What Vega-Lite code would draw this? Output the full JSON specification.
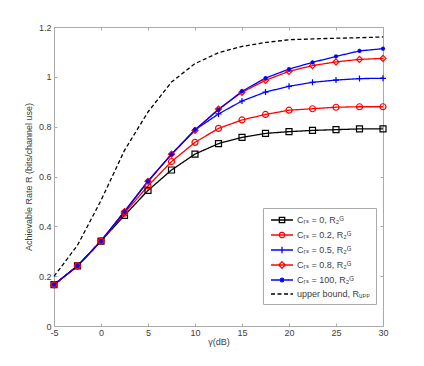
{
  "$schema": "https://vega.github.io/schema/vega-lite/v6.json",
  "autosize": "none",
  "width": 329,
  "height": 299,
  "padding": {"left": 54, "top": 27, "right": 41, "bottom": 40},
  "background": "white",
  "config": {
    "view": {"stroke": "#aaaaaa", "strokeWidth": 1},
    "font": "Liberation Sans, DejaVu Sans",
    "axis": {"grid": false, "labelFont": "Liberation Sans, DejaVu Sans", "titleFont": "Liberation Sans, DejaVu Sans", "labelFontSize": 9, "titleFontSize": 9, "titleFontWeight": "normal", "labelColor": "#404040", "titleColor": "#404040", "tickColor": "#aaaaaa", "domain": false}
  },
  "data": {
    "values": [
      {"x": -5, "y": 0.166, "s": "Cᵣₛ = 0, R₂ᴳ"}, {"x": -2.5, "y": 0.241, "s": "Cᵣₛ = 0, R₂ᴳ"}, {"x": 0, "y": 0.341, "s": "Cᵣₛ = 0, R₂ᴳ"}, {"x": 2.5, "y": 0.444, "s": "Cᵣₛ = 0, R₂ᴳ"}, {"x": 5, "y": 0.544, "s": "Cᵣₛ = 0, R₂ᴳ"}, {"x": 7.5, "y": 0.626, "s": "Cᵣₛ = 0, R₂ᴳ"}, {"x": 10, "y": 0.69, "s": "Cᵣₛ = 0, R₂ᴳ"}, {"x": 12.5, "y": 0.732, "s": "Cᵣₛ = 0, R₂ᴳ"}, {"x": 15, "y": 0.757, "s": "Cᵣₛ = 0, R₂ᴳ"}, {"x": 17.5, "y": 0.773, "s": "Cᵣₛ = 0, R₂ᴳ"}, {"x": 20, "y": 0.78, "s": "Cᵣₛ = 0, R₂ᴳ"}, {"x": 22.5, "y": 0.785, "s": "Cᵣₛ = 0, R₂ᴳ"}, {"x": 25, "y": 0.788, "s": "Cᵣₛ = 0, R₂ᴳ"}, {"x": 27.5, "y": 0.791, "s": "Cᵣₛ = 0, R₂ᴳ"}, {"x": 30, "y": 0.791, "s": "Cᵣₛ = 0, R₂ᴳ"},
      {"x": -5, "y": 0.166, "s": "Cᵣₛ = 0.2, R₂ᴳ"}, {"x": -2.5, "y": 0.241, "s": "Cᵣₛ = 0.2, R₂ᴳ"}, {"x": 0, "y": 0.341, "s": "Cᵣₛ = 0.2, R₂ᴳ"}, {"x": 2.5, "y": 0.453, "s": "Cᵣₛ = 0.2, R₂ᴳ"}, {"x": 5, "y": 0.562, "s": "Cᵣₛ = 0.2, R₂ᴳ"}, {"x": 7.5, "y": 0.66, "s": "Cᵣₛ = 0.2, R₂ᴳ"}, {"x": 10, "y": 0.737, "s": "Cᵣₛ = 0.2, R₂ᴳ"}, {"x": 12.5, "y": 0.793, "s": "Cᵣₛ = 0.2, R₂ᴳ"}, {"x": 15, "y": 0.827, "s": "Cᵣₛ = 0.2, R₂ᴳ"}, {"x": 17.5, "y": 0.849, "s": "Cᵣₛ = 0.2, R₂ᴳ"}, {"x": 20, "y": 0.866, "s": "Cᵣₛ = 0.2, R₂ᴳ"}, {"x": 22.5, "y": 0.872, "s": "Cᵣₛ = 0.2, R₂ᴳ"}, {"x": 25, "y": 0.878, "s": "Cᵣₛ = 0.2, R₂ᴳ"}, {"x": 27.5, "y": 0.88, "s": "Cᵣₛ = 0.2, R₂ᴳ"}, {"x": 30, "y": 0.88, "s": "Cᵣₛ = 0.2, R₂ᴳ"},
      {"x": -5, "y": 0.166, "s": "Cᵣₛ = 0.5, R₂ᴳ"}, {"x": -2.5, "y": 0.241, "s": "Cᵣₛ = 0.5, R₂ᴳ"}, {"x": 0, "y": 0.341, "s": "Cᵣₛ = 0.5, R₂ᴳ"}, {"x": 2.5, "y": 0.46, "s": "Cᵣₛ = 0.5, R₂ᴳ"}, {"x": 5, "y": 0.581, "s": "Cᵣₛ = 0.5, R₂ᴳ"}, {"x": 7.5, "y": 0.689, "s": "Cᵣₛ = 0.5, R₂ᴳ"}, {"x": 10, "y": 0.787, "s": "Cᵣₛ = 0.5, R₂ᴳ"}, {"x": 12.5, "y": 0.851, "s": "Cᵣₛ = 0.5, R₂ᴳ"}, {"x": 15, "y": 0.903, "s": "Cᵣₛ = 0.5, R₂ᴳ"}, {"x": 17.5, "y": 0.939, "s": "Cᵣₛ = 0.5, R₂ᴳ"}, {"x": 20, "y": 0.962, "s": "Cᵣₛ = 0.5, R₂ᴳ"}, {"x": 22.5, "y": 0.978, "s": "Cᵣₛ = 0.5, R₂ᴳ"}, {"x": 25, "y": 0.987, "s": "Cᵣₛ = 0.5, R₂ᴳ"}, {"x": 27.5, "y": 0.993, "s": "Cᵣₛ = 0.5, R₂ᴳ"}, {"x": 30, "y": 0.994, "s": "Cᵣₛ = 0.5, R₂ᴳ"},
      {"x": -5, "y": 0.166, "s": "Cᵣₛ = 0.8, R₂ᴳ"}, {"x": -2.5, "y": 0.241, "s": "Cᵣₛ = 0.8, R₂ᴳ"}, {"x": 0, "y": 0.341, "s": "Cᵣₛ = 0.8, R₂ᴳ"}, {"x": 2.5, "y": 0.459, "s": "Cᵣₛ = 0.8, R₂ᴳ"}, {"x": 5, "y": 0.581, "s": "Cᵣₛ = 0.8, R₂ᴳ"}, {"x": 7.5, "y": 0.69, "s": "Cᵣₛ = 0.8, R₂ᴳ"}, {"x": 10, "y": 0.785, "s": "Cᵣₛ = 0.8, R₂ᴳ"}, {"x": 12.5, "y": 0.871, "s": "Cᵣₛ = 0.8, R₂ᴳ"}, {"x": 15, "y": 0.938, "s": "Cᵣₛ = 0.8, R₂ᴳ"}, {"x": 17.5, "y": 0.986, "s": "Cᵣₛ = 0.8, R₂ᴳ"}, {"x": 20, "y": 1.022, "s": "Cᵣₛ = 0.8, R₂ᴳ"}, {"x": 22.5, "y": 1.045, "s": "Cᵣₛ = 0.8, R₂ᴳ"}, {"x": 25, "y": 1.06, "s": "Cᵣₛ = 0.8, R₂ᴳ"}, {"x": 27.5, "y": 1.07, "s": "Cᵣₛ = 0.8, R₂ᴳ"}, {"x": 30, "y": 1.074, "s": "Cᵣₛ = 0.8, R₂ᴳ"},
      {"x": -5, "y": 0.166, "s": "Cᵣₛ = 100, R₂ᴳ"}, {"x": -2.5, "y": 0.241, "s": "Cᵣₛ = 100, R₂ᴳ"}, {"x": 0, "y": 0.341, "s": "Cᵣₛ = 100, R₂ᴳ"}, {"x": 2.5, "y": 0.459, "s": "Cᵣₛ = 100, R₂ᴳ"}, {"x": 5, "y": 0.581, "s": "Cᵣₛ = 100, R₂ᴳ"}, {"x": 7.5, "y": 0.689, "s": "Cᵣₛ = 100, R₂ᴳ"}, {"x": 10, "y": 0.788, "s": "Cᵣₛ = 100, R₂ᴳ"}, {"x": 12.5, "y": 0.868, "s": "Cᵣₛ = 100, R₂ᴳ"}, {"x": 15, "y": 0.942, "s": "Cᵣₛ = 100, R₂ᴳ"}, {"x": 17.5, "y": 0.995, "s": "Cᵣₛ = 100, R₂ᴳ"}, {"x": 20, "y": 1.031, "s": "Cᵣₛ = 100, R₂ᴳ"}, {"x": 22.5, "y": 1.058, "s": "Cᵣₛ = 100, R₂ᴳ"}, {"x": 25, "y": 1.082, "s": "Cᵣₛ = 100, R₂ᴳ"}, {"x": 27.5, "y": 1.104, "s": "Cᵣₛ = 100, R₂ᴳ"}, {"x": 30, "y": 1.113, "s": "Cᵣₛ = 100, R₂ᴳ"},
      {"x": -5, "y": 0.199, "s": "upper bound, Rᵤₚₚ"}, {"x": -2.5, "y": 0.324, "s": "upper bound, Rᵤₚₚ"}, {"x": 0, "y": 0.504, "s": "upper bound, Rᵤₚₚ"}, {"x": 2.5, "y": 0.705, "s": "upper bound, Rᵤₚₚ"}, {"x": 5, "y": 0.859, "s": "upper bound, Rᵤₚₚ"}, {"x": 7.5, "y": 0.979, "s": "upper bound, Rᵤₚₚ"}, {"x": 10, "y": 1.053, "s": "upper bound, Rᵤₚₚ"}, {"x": 12.5, "y": 1.097, "s": "upper bound, Rᵤₚₚ"}, {"x": 15, "y": 1.122, "s": "upper bound, Rᵤₚₚ"}, {"x": 17.5, "y": 1.138, "s": "upper bound, Rᵤₚₚ"}, {"x": 20, "y": 1.149, "s": "upper bound, Rᵤₚₚ"}, {"x": 22.5, "y": 1.152, "s": "upper bound, Rᵤₚₚ"}, {"x": 25, "y": 1.155, "s": "upper bound, Rᵤₚₚ"}, {"x": 27.5, "y": 1.157, "s": "upper bound, Rᵤₚₚ"}, {"x": 30, "y": 1.16, "s": "upper bound, Rᵤₚₚ"}
    ]
  },
  "layer": [
    {
      "mark": {"type": "line", "strokeWidth": 1.3},
      "encoding": {
        "x": {"field": "x", "type": "quantitative", "scale": {"domain": [-5, 30], "nice": false, "zero": false},
          "axis": {"orient": "bottom", "values": [-5, 0, 5, 10, 15, 20, 25, 30], "labelExpr": "'' + datum.value", "title": "γ(dB)", "tickSize": -3, "labelPadding": 5, "titlePadding": 0, "labelFlush": false}},
        "y": {"field": "y", "type": "quantitative", "scale": {"domain": [0, 1.2], "nice": false},
          "axis": {"orient": "left", "values": [0, 0.2, 0.4, 0.6, 0.8, 1, 1.2], "labelExpr": "'' + datum.value", "title": "Achievable Rate R (bits/channel use)", "tickSize": -3, "labelPadding": 6, "titlePadding": 5}},
        "color": {"field": "s", "type": "nominal",
          "scale": {"domain": ["Cᵣₛ = 0, R₂ᴳ", "Cᵣₛ = 0.2, R₂ᴳ", "Cᵣₛ = 0.5, R₂ᴳ", "Cᵣₛ = 0.8, R₂ᴳ", "Cᵣₛ = 100, R₂ᴳ", "upper bound, Rᵤₚₚ"],
            "range": ["#000000", "#ff0000", "#0000ff", "#ff0000", "#0000ff", "#000000"]},
          "legend": {
            "title": null, "orient": "none", "legendX": 209, "legendY": 181,
            "padding": 5, "fillColor": "white", "strokeColor": "#aaaaaa", "cornerRadius": 0,
            "labelFont": "Liberation Sans, DejaVu Sans", "labelFontSize": 9, "labelColor": "#404040",
            "symbolSize": 144, "symbolOffset": 7, "labelOffset": 8, "rowPadding": 2,
            "encode": {"symbols": {"update": {
              "fill": {"value": "transparent"},
              "strokeWidth": {"value": 1.3},
              "size": {"value": 144},
              "shape": {"signal": "datum.index==0 ? 'M-1.83,0H1.83M-0.45,-0.45H0.45V0.45H-0.45Z' : datum.index==1 ? 'M-1.83,0H1.83M0.45,0A0.45,0.45,0,1,1,-0.45,0A0.45,0.45,0,1,1,0.45,0' : datum.index==2 ? 'M-1.83,0H1.83M0,-0.55V0.55' : datum.index==3 ? 'M-1.83,0H1.83M0,-0.55L0.55,0L0,0.55L-0.55,0Z' : datum.index==4 ? 'M-1.83,0H1.83M-0.3,-0.3L0.3,0.3M-0.3,0.3L0.3,-0.3M0,-0.4V0.4' : 'M-1.83,0H1.83'"}
            }}}
          }},
        "strokeDash": {"field": "s", "type": "nominal",
          "scale": {"domain": ["Cᵣₛ = 0, R₂ᴳ", "Cᵣₛ = 0.2, R₂ᴳ", "Cᵣₛ = 0.5, R₂ᴳ", "Cᵣₛ = 0.8, R₂ᴳ", "Cᵣₛ = 100, R₂ᴳ", "upper bound, Rᵤₚₚ"],
            "range": [[1, 0], [1, 0], [1, 0], [1, 0], [1, 0], [4, 2.5]]},
          "legend": {"title": null, "orient": "none", "legendX": 209, "legendY": 181}}
      }
    },
    {
      "transform": [{"filter": "indexof(datum.s, 'upper') < 0"}],
      "mark": {"type": "point", "filled": false, "strokeWidth": 1.2, "opacity": 1},
      "encoding": {
        "x": {"field": "x", "type": "quantitative", "axis": {"orient": "top", "values": [-5, 0, 5, 10, 15, 20, 25, 30], "labels": false, "title": null, "tickSize": -3}},
        "y": {"field": "y", "type": "quantitative", "axis": {"orient": "right", "values": [0, 0.2, 0.4, 0.6, 0.8, 1, 1.2], "labels": false, "title": null, "tickSize": -3}},
        "color": {"field": "s", "type": "nominal"},
        "shape": {"field": "s", "type": "nominal", "legend": null,
          "scale": {"domain": ["Cᵣₛ = 0, R₂ᴳ", "Cᵣₛ = 0.2, R₂ᴳ", "Cᵣₛ = 0.5, R₂ᴳ", "Cᵣₛ = 0.8, R₂ᴳ", "Cᵣₛ = 100, R₂ᴳ"],
            "range": ["square", "circle", "M-1,0H1M0,-1V1", "diamond", "M-0.5,-0.5L0.5,0.5M-0.5,0.5L0.5,-0.5M0,-0.7V0.7M-0.7,0H0.7"]}},
        "size": {"value": 36}
      }
    }
  ],
  "resolve": {"axis": {"x": "independent", "y": "independent"}}
}
